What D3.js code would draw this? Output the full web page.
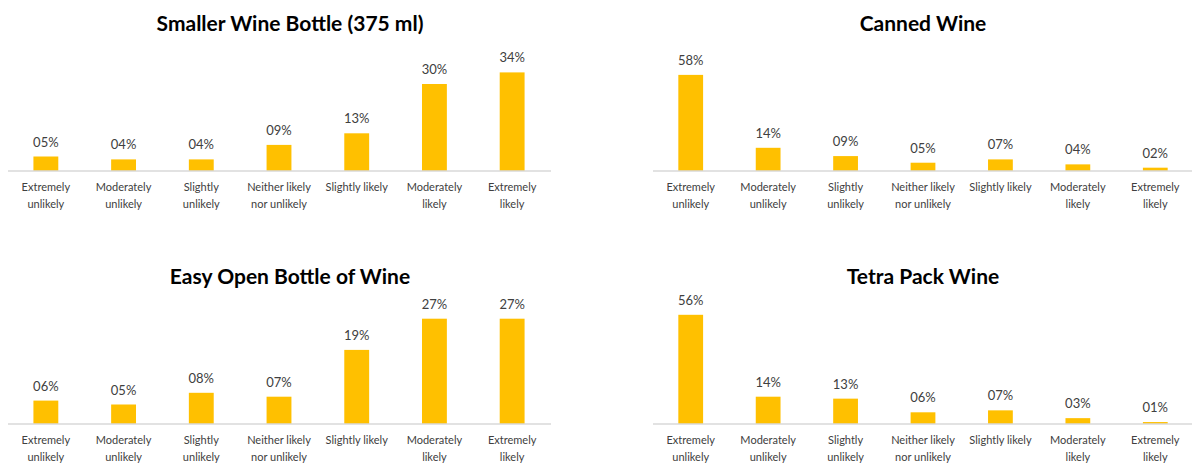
<!DOCTYPE html>
<html>
<head>
<meta charset="utf-8">
<script src="https://cdn.jsdelivr.net/npm/d3@7"></script>
<style>
  html, body { margin: 0; padding: 0; background: #fff; }
  svg { display: block; }
  .title { font-family: Lato, "Liberation Sans", sans-serif; font-weight: bold; fill: #000; }
  .cat { font-family: Lato, "Liberation Sans", sans-serif; fill: #404040; }
  .val { font-family: Lato, "Liberation Sans", sans-serif; fill: #404040; }
</style>
</head>
<body>
<svg id="chart" width="1192" height="464"></svg>
<script>
// Likelihood scale shared by all four packaging formats
const categories = [
  "Extremely\nunlikely",
  "Moderately\nunlikely",
  "Slightly\nunlikely",
  "Neither likely\nnor unlikely",
  "Slightly likely",
  "Moderately\nlikely",
  "Extremely\nlikely"
];

const titles = [
  "Smaller Wine Bottle (375 ml)",
  "Canned Wine",
  "Easy Open Bottle of Wine",
  "Tetra Pack Wine"
];

// Share of respondents (%) per category
const smallerBottle = [5, 4, 4, 9, 13, 30, 34];
const cannedWine    = [58, 14, 9, 5, 7, 4, 2];
const easyOpen      = [6, 5, 8, 7, 19, 27, 27];
const tetraPack     = [56, 14, 13, 6, 7, 3, 1];

// Value-axis maximum of each panel
const axisMax = [40, 70, 30, 60];

const series = [smallerBottle, cannedWine, easyOpen, tetraPack];

const panels = [
  { x0: 7,   x1: 551,  top: 55,  base: 171, titleX: 290, titleY: 31 },
  { x0: 652, x1: 1194, top: 55,  base: 171, titleX: 923, titleY: 31 },
  { x0: 7,   x1: 551,  top: 307, base: 424, titleX: 290, titleY: 284 },
  { x0: 652, x1: 1194, top: 307, base: 424, titleX: 923, titleY: 284 }
];

const svg = d3.select("#chart");
const fmt = v => String(v).padStart(2, "0") + "%";

panels.forEach((p, i) => {
  const values = series[i];
  const g = svg.append("g");

  const x = d3.scaleBand()
    .domain(categories)
    .range([p.x0, p.x1])
    .paddingInner(0.68)
    .paddingOuter(0.34);

  const y = d3.scaleLinear()
    .domain([0, axisMax[i]])
    .range([p.base, p.top]);

  g.append("text")
    .attr("class", "title")
    .attr("x", p.titleX)
    .attr("y", p.titleY)
    .attr("text-anchor", "middle")
    .attr("font-size", 21)
    .text(titles[i]);

  g.selectAll("rect")
    .data(values)
    .join("rect")
    .attr("x", (d, k) => x(categories[k]))
    .attr("width", x.bandwidth())
    .attr("y", d => y(d))
    .attr("height", d => y(0) - y(d))
    .attr("fill", "#FFC000");

  g.selectAll("text.val")
    .data(values)
    .join("text")
    .attr("class", "val")
    .attr("x", (d, k) => x(categories[k]) + x.bandwidth() / 2)
    .attr("y", d => y(d) - 10)
    .attr("text-anchor", "middle")
    .attr("font-size", 13)
    .text(fmt);

  // Category axis: baseline plus two-line labels, no tick marks
  const axis = d3.axisBottom(x).tickSize(0).tickPadding(0).tickFormat("");
  const ax = g.append("g")
    .attr("transform", `translate(0,${p.base})`)
    .call(axis);
  ax.select(".domain")
    .attr("stroke", "#D9D9D9")
    .attr("stroke-width", 1.5)
    .attr("d", `M${p.x0 + 1},0H${Math.min(p.x1, 1192)}`);

  ax.selectAll(".tick").each(function(c) {
    const lines = c.split("\n");
    const t = d3.select(this).append("text")
      .attr("class", "cat")
      .attr("text-anchor", "middle")
      .attr("font-size", 11)
      .attr("fill", "#404040");
    lines.forEach((ln, j) => {
      t.append("tspan")
        .attr("x", 0)
        .attr("y", 20 + j * 17)
        .text(ln);
    });
  });
});
</script>
</body>
</html>
